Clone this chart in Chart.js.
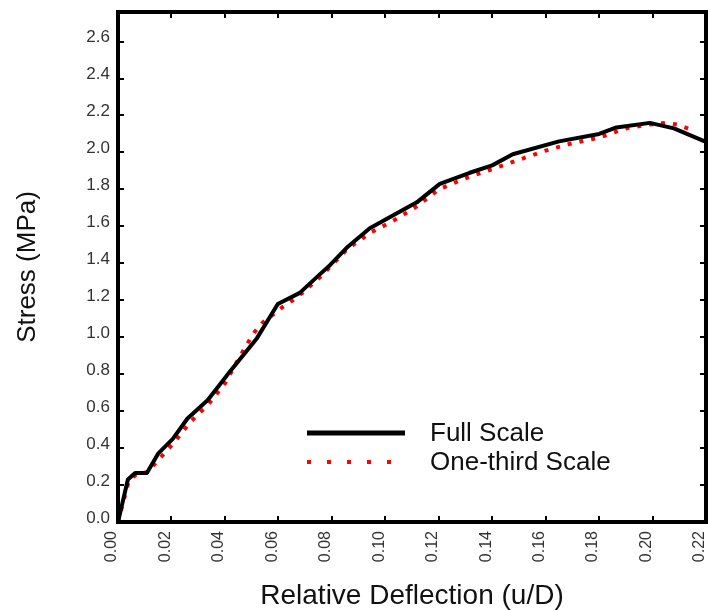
<!DOCTYPE html>
<html>
<head>
<meta charset="utf-8">
<script src="https://cdn.jsdelivr.net/npm/chart.js@4/dist/chart.umd.min.js"></script>
<style>
  html, body { margin: 0; padding: 0; background: #fff; }
  canvas { display: block; }
</style>
</head>
<body>
<canvas id="stress" width="708" height="610"></canvas>
<script>
// relative deflection u/D vs stress (MPa)
const fullX = [0, 0.0037, 0.0064, 0.0108, 0.015, 0.0205, 0.026, 0.0336, 0.039, 0.0419, 0.052, 0.0598,
  0.068, 0.0755, 0.0793, 0.086, 0.0942, 0.1118, 0.1204, 0.1316, 0.14, 0.1477, 0.165, 0.18, 0.1865,
  0.199, 0.208, 0.2195];
const fullY = [0, 0.23, 0.265, 0.265, 0.37, 0.45, 0.56, 0.66, 0.76, 0.815, 0.995, 1.18,
  1.24, 1.34, 1.39, 1.49, 1.59, 1.73, 1.83, 1.89, 1.93, 1.99, 2.06, 2.10, 2.135,
  2.16, 2.13, 2.06];

const thirdX = [0, 0.004, 0.007, 0.011, 0.016, 0.021, 0.027, 0.034, 0.040, 0.045, 0.0486, 0.0512,
  0.0542, 0.0613, 0.0654, 0.069, 0.076, 0.086, 0.095, 0.1017, 0.1054, 0.112, 0.12, 0.13, 0.14,
  0.15, 0.16, 0.17, 0.18, 0.19, 0.198, 0.205, 0.2095, 0.215];
const thirdY = [0, 0.22, 0.26, 0.27, 0.35, 0.43, 0.54, 0.64, 0.75, 0.88, 0.97, 1.03,
  1.08, 1.16, 1.20, 1.24, 1.33, 1.48, 1.57, 1.62, 1.65, 1.71, 1.80, 1.86, 1.91,
  1.96, 2.01, 2.05, 2.08, 2.13, 2.15, 2.16, 2.15, 2.12];

const seriesNames = ['Full Scale', 'One-third Scale'];

const pairs = (xs, ys) => xs.map((x, i) => ({ x: x, y: ys[i] }));

// box round the plot with short inward ticks on all four sides
const frame = {
  id: 'frame',
  afterDatasetsDraw(chart) {
    const { ctx, chartArea: a, scales } = chart;
    ctx.save();
    ctx.strokeStyle = '#000';
    ctx.lineWidth = 2;
    scales.x.ticks.forEach(t => {
      const px = Math.round(scales.x.getPixelForValue(t.value));
      ctx.beginPath();
      ctx.moveTo(px, a.bottom); ctx.lineTo(px, a.bottom - 6);
      ctx.moveTo(px, a.top); ctx.lineTo(px, a.top + 6);
      ctx.stroke();
    });
    scales.y.ticks.forEach(t => {
      const py = Math.round(scales.y.getPixelForValue(t.value));
      ctx.beginPath();
      ctx.moveTo(a.left, py); ctx.lineTo(a.left + 6, py);
      ctx.moveTo(a.right, py); ctx.lineTo(a.right - 6, py);
      ctx.stroke();
    });
    ctx.lineWidth = 4;
    ctx.strokeRect(a.left, a.top, a.right - a.left, a.bottom - a.top);
    ctx.restore();
  }
};

// legend sits inside the plot, lower right
const insideLegend = {
  id: 'insideLegend',
  afterDraw(chart) {
    const { ctx } = chart;
    const x0 = 307, x1 = 405, tx = 430;
    const rows = [433, 462];
    ctx.save();
    chart.data.datasets.forEach((ds, i) => {
      const y = rows[i];
      ctx.beginPath();
      ctx.strokeStyle = ds.borderColor;
      ctx.lineWidth = i === 0 ? 5 : 4;
      ctx.lineCap = 'butt';
      ctx.setLineDash(i === 0 ? [] : [4, 16]);
      ctx.moveTo(x0, y);
      ctx.lineTo(i === 0 ? x1 : 395, y);
      ctx.stroke();
      ctx.setLineDash([]);
      ctx.fillStyle = '#111';
      ctx.font = '26px "Liberation Sans", Arial, sans-serif';
      ctx.textBaseline = 'middle';
      ctx.fillText(ds.label, tx, y + 1);
    });
    ctx.restore();
  }
};

new Chart(document.getElementById('stress'), {
  type: 'line',
  data: {
    datasets: [
      {
        label: seriesNames[0],
        data: pairs(fullX, fullY),
        borderColor: '#000',
        borderWidth: 4,
        borderJoinStyle: 'round',
        pointRadius: 0,
        tension: 0,
        order: 0
      },
      {
        label: seriesNames[1],
        data: pairs(thirdX, thirdY),
        borderColor: '#ff0000',
        borderWidth: 4,
        borderDash: [4, 8],
        borderCapStyle: 'butt',
        pointRadius: 0,
        tension: 0,
        order: 1
      }
    ]
  },
  options: {
    responsive: false,
    animation: false,
    layout: { padding: { top: 12, right: 2, left: 0, bottom: 0 } },
    plugins: {
      legend: { display: false },
      tooltip: { enabled: false }
    },
    scales: {
      x: {
        type: 'linear',
        min: 0,
        max: 0.22,
        grid: { display: false, drawTicks: false },
        border: { display: false },
        ticks: {
          stepSize: 0.02,
          minRotation: 90,
          maxRotation: 90,
          padding: 9,
          labelOffset: -6,
          color: '#333',
          font: { family: '"Liberation Sans", Arial, sans-serif', size: 16 },
          callback: v => v.toFixed(2)
        },
        title: {
          display: true,
          text: 'Relative Deflection (u/D)',
          color: '#111',
          padding: 0,
          font: { family: '"Liberation Sans", Arial, sans-serif', size: 28, lineHeight: 1 }
        },
        afterFit(s) {
          s.height = 88;
          s.paddingLeft = 0;
          s.paddingRight = 0;
        }
      },
      y: {
        min: 0,
        max: 2.76,
        grid: { display: false, drawTicks: false },
        border: { display: false },
        ticks: {
          stepSize: 0.2,
          includeBounds: false,
          padding: 8,
          labelOffset: -4,
          color: '#333',
          font: { family: '"Liberation Sans", Arial, sans-serif', size: 17 },
          callback: v => v.toFixed(1)
        },
        title: {
          display: true,
          text: 'Stress (MPa)',
          color: '#111',
          padding: { top: 15, bottom: 0 },
          font: { family: '"Liberation Sans", Arial, sans-serif', size: 26, lineHeight: 1 }
        },
        afterFit(s) {
          s.width = 118;
          s.paddingTop = 0;
          s.paddingBottom = 0;
        }
      }
    }
  },
  plugins: [frame, insideLegend]
});
</script>
</body>
</html>
